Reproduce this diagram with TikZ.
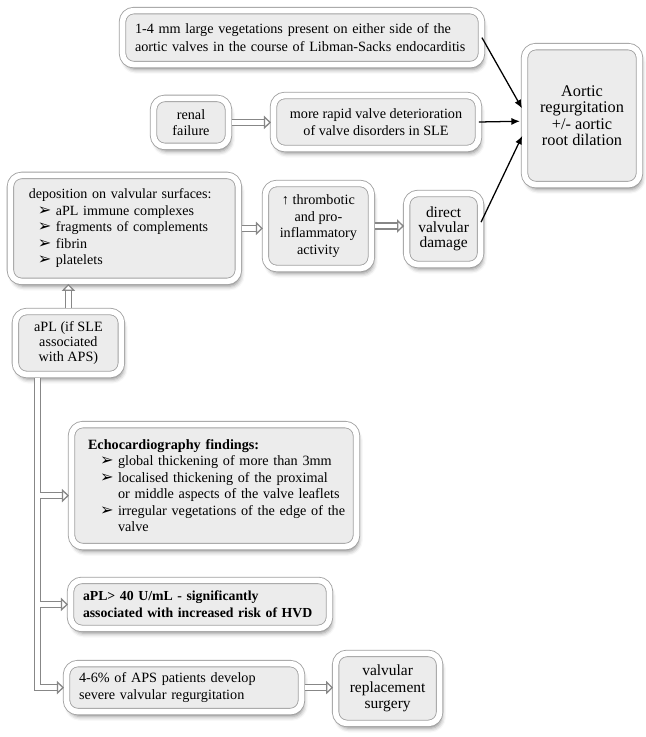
\documentclass[tikz,border=0pt]{standalone}
\usepackage{fontspec}
\setmainfont{Liberation Serif}
\newfontfamily\dingfont{DejaVu Sans}
\usetikzlibrary{positioning, arrows.meta, shadows.blur}
\definecolor{PanelGray}{RGB}{236, 236, 236}
\definecolor{RimGray}{RGB}{160, 160, 160}
\definecolor{LinkGray}{RGB}{135, 135, 135}
\newcommand{\arrowitem}{{\dingfont\fontsize{11.5}{11.5}\selectfont ➢}}
\newcommand{\bul}[2]{\hspace*{#1}\makebox[#2][l]{\arrowitem}}

\begin{document}
\begin{tikzpicture}[
    card/.style={draw=RimGray, line width=0.6pt, double=white, double distance=4pt,
        fill=PanelGray, rounded corners=8pt, inner sep=2pt,
        font=\fontsize{10.1}{11.7}\selectfont,
        blur shadow={shadow xshift=1.5pt, shadow yshift=-3.5pt, shadow blur radius=3pt, shadow opacity=45}},
    hollow/.style={draw=LinkGray, line width=0.9pt, double=white, double distance=3.2pt,
        -{Triangle[fill=white, length=5pt, width=9.5pt]}, shorten <=2pt, shorten >=1.5pt},
    feed/.style={-{Latex[length=6pt, width=5pt]}, line width=0.9pt, black, shorten >=3pt}
]
    \useasboundingbox (0,0) rectangle (16.15,-18.425);

    % Top row
    \node[card, minimum width=8.975cm, minimum height=1.35cm, text width=8.35cm, align=left, font=\fontsize{10.1}{12.3}\selectfont] (veg) at (7.55,-0.94)
        {1-4 mm large vegetations present on either side of the\\ \mbox{aortic valves in the course of Libman-Sacks endocarditis}};
    \node[card, minimum width=1.875cm, minimum height=1.2cm, align=center] (renal) at (4.775,-3.06) {renal\\ failure};
    \node[card, minimum width=5.125cm, minimum height=1.325cm, align=center] (rapid) at (9.4,-3.05)
        {more rapid valve deterioration\\ of valve disorders in SLE};
    \node[card, minimum width=2.875cm, minimum height=3.45cm, align=center, font=\fontsize{11.6}{11.6}\selectfont] (aortic) at (14.55,-2.89)
        {Aortic\\ regurgitation\\ +/- aortic\\ root dilation};

    % Middle row
    \node[card, minimum width=5.7cm, minimum height=2.65cm, text width=4.775cm, align=left, font=\fontsize{10}{11.7}\selectfont] (dep) at (3.11,-5.71)
        {deposition on valvular surfaces:\\
        \bul{0.225cm}{0.45cm}aPL immune complexes\\
        \bul{0.225cm}{0.45cm}\mbox{fragments of complements}\\
        \bul{0.225cm}{0.45cm}fibrin\\
        \bul{0.225cm}{0.45cm}platelets};
    \node[card, minimum width=2.65cm, minimum height=2.125cm, align=center] (thromb) at (7.96,-5.65)
        {↑ thrombotic\\ and pro-\\ inflammatory\\ activity};
    \node[card, minimum width=1.85cm, minimum height=1.775cm, align=center, font=\fontsize{11}{10.8}\selectfont] (direct) at (11.09,-5.725)
        {direct\\ valvular\\ damage};
    \node[card, minimum width=2.65cm, minimum height=1.575cm, align=center, font=\fontsize{10.1}{10.8}\selectfont] (apl) at (1.71,-8.575)
        {aPL (if SLE\\ associated\\ with APS)};

    % Lower column
    \node[card, minimum width=7.125cm, minimum height=3.05cm, text width=6.3cm, align=left] (echo) at (5.35,-12.14)
        {\textbf{Echocardiography findings:}\\
        \bul{0.3cm}{0.45cm}global thickening of more than 3mm\\
        \bul{0.3cm}{0.45cm}localised thickening of the proximal\\
        \hspace*{0.75cm}\mbox{or middle aspects of the valve leaflets}\\
        \bul{0.3cm}{0.45cm}\mbox{irregular vegetations of the edge of the}\\
        \hspace*{0.75cm}valve};
    \node[card, minimum width=6.475cm, minimum height=1.2cm, text width=5.85cm, align=left, font=\fontsize{9.8}{11.7}\selectfont\bfseries] (hvd) at (5.0,-15.11)
        {aPL> 40 U/mL - significantly\\ \mbox{associated with increased risk of HVD}};
    \node[card, minimum width=5.875cm, minimum height=1.2cm, text width=5.25cm, align=left] (aps) at (4.6,-17.19)
        {4-6\% of APS patients develop\\ severe valvular regurgitation};
    \node[card, minimum width=2.6cm, minimum height=1.75cm, align=center, font=\fontsize{11}{11.8}\selectfont] (surgery) at (9.69,-17.21)
        {valvular\\ replacement\\ surgery};

    % Hollow arrows
    \coordinate (trunk) at (0.94,0);
    \coordinate (echoin) at ([yshift=-0.25cm]echo.west);
    \draw[hollow] (apl.north) -- (apl.north |- dep.south);
    \draw[hollow] (renal.east) -- (rapid.west |- renal.east);
    \draw[hollow] (dep.east) -- (thromb.west |- dep.east);
    \draw[hollow] (thromb.east) -- (direct.west |- thromb.east);
    \draw[hollow] (aps.east) -- (surgery.west |- aps.east);
    \draw[hollow] (apl.south -| trunk) |- (echoin);
    \draw[hollow] (trunk |- echoin) |- (hvd.west);
    \draw[hollow] (trunk |- hvd.west) |- (aps.west);

    % Arrows into the aortic box
    \draw[feed] (veg.east) -- ([yshift=0.09cm]aortic.west);
    \draw[feed] (rapid.east) -- ([yshift=-0.14cm]aortic.west);
    \draw[feed] ([yshift=0.17cm]direct.east) -- ([yshift=-0.41cm]aortic.west);
\end{tikzpicture}
\end{document}
